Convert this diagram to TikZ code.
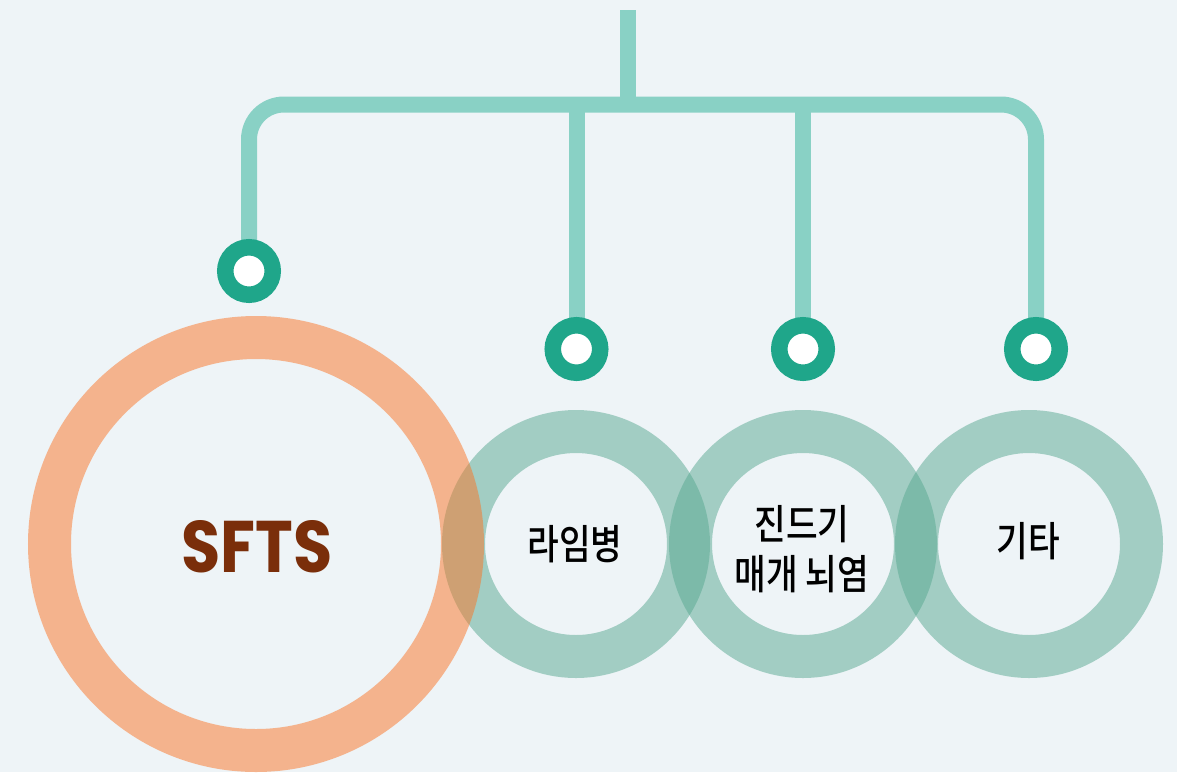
\documentclass[tikz,border=0pt]{standalone}
\usepackage{fontspec}
\newfontfamily\krfont[FakeStretch=0.84]{Noto Sans CJK KR Medium}
\newfontfamily\sftsfont{Poppins}
\definecolor{bgc}{RGB}{238,244,247}
\definecolor{busc}{RGB}{137,209,197}
\definecolor{dotc}{RGB}{31,166,138}
\definecolor{greenc}{RGB}{88,168,145}
\definecolor{orangec}{RGB}{250,116,37}
\definecolor{brownc}{RGB}{122,46,10}
\begin{document}
\begin{tikzpicture}[x=1pt,y=-1pt,
  busline/.style={draw=busc,line width=16pt},
  dotring/.style={circle,draw=dotc,fill=white,line width=16.5pt,minimum size=47.5pt,inner sep=0pt},
  gring/.style={circle,draw=greenc,draw opacity=0.5,line width=43pt,minimum size=225pt,inner sep=0pt},
  oring/.style={circle,draw=orangec,draw opacity=0.5,line width=43pt,minimum size=413pt,inner sep=0pt},
  krlabel/.style={font=\krfont\fontsize{41}{50}\selectfont,text=black,align=center,inner sep=0pt},
]
\fill[bgc] (0,0) rectangle (1177,772);
\useasboundingbox (0,0) rectangle (1177,772);

% rings
\node[gring] (lyme) at (576,544) {};
\node[gring] (tbe) at (803,544) {};
\node[gring] (etc) at (1029,544) {};
\node[oring] (sfts) at (256,544) {};

% labels
\node[inner sep=0pt,text=brownc] (sftsl) at (257,547) {\resizebox{151pt}{52pt}{\sftsfont\bfseries SFTS}};
\node[krlabel] (lymel) at (575,544) {라임병};
\node[krlabel] (tbel) at (802,549) {진드기\\매개 뇌염};
\node[krlabel] (etcl) at (1028,541) {기타};

% connector points
\coordinate (c1) at (249,271);
\coordinate (c2) at (576.5,349);
\coordinate (c3) at (803,349);
\coordinate (c4) at (1036,349);
\coordinate (top) at (628,10);
\coordinate (bus) at (628,104.5);

% bus
\draw[busline] (top) -- (bus);
\draw[busline,rounded corners=35pt] (c1) |- (bus) -| (c4);
\draw[busline] (c2) -- (c2 |- bus);
\draw[busline] (c3) -- (c3 |- bus);

% connector dots
\node[dotring] (d1) at (c1) {};
\node[dotring] (d2) at (c2) {};
\node[dotring] (d3) at (c3) {};
\node[dotring] (d4) at (c4) {};
\end{tikzpicture}
\end{document}
